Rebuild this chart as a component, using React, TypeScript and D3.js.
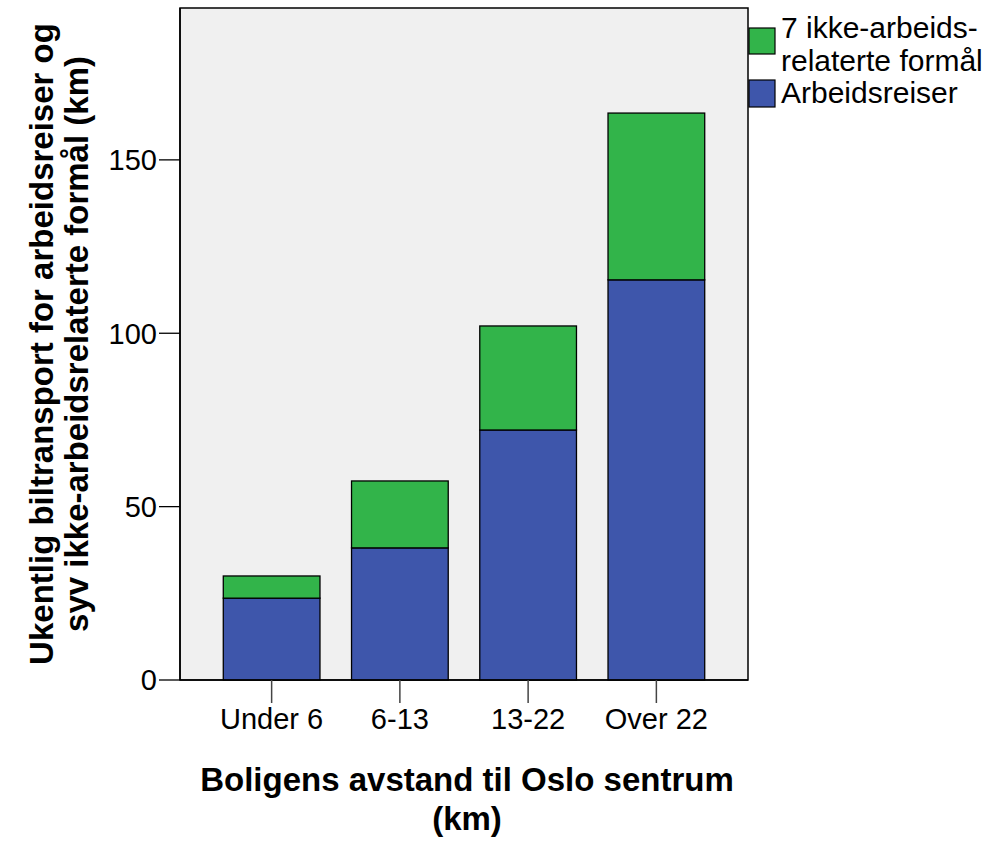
import React from "react";
import * as d3 from "d3";

const categories = ["Under 6", "6-13", "13-22", "Over 22"];
const arbeidsreiser = [23.6, 38.1, 72.1, 115.4];
const ikkeArbeid = [6.4, 19.3, 30.0, 48.1];
const yTicks = [0, 50, 100, 150];
const seriesNames = ["7 ikke-arbeids-|relaterte formål", "Arbeidsreiser"];

const GREEN = "#32b44a";
const BLUE = "#3e56ab";

export default function App() {
  const W = 1000, H = 845;
  const left = 180, right = 748, top = 8, bottom = 680;
  const x = d3.scaleBand<string>().domain(categories).range([left, right]).paddingInner(0.246).paddingOuter(0.3375);
  const y = d3.scaleLinear().domain([0, 193.8]).range([bottom, top]);
  const font = "Arial, 'Liberation Sans', sans-serif";

  return (
    <svg width={W} height={H} style={{ display: "block", position: "absolute", left: 0, top: 0 }} fontFamily={font}>
      <rect x={0} y={0} width={W} height={H} fill="#fff" />
      <rect x={left} y={top} width={right - left} height={bottom - top} fill="#f0f0f0" stroke="#000" strokeWidth={1.5} />
      {categories.map((c, i) => {
        const bx = x(c)!;
        const bw = x.bandwidth();
        const b = arbeidsreiser[i];
        const g = ikkeArbeid[i];
        return (
          <g key={c}>
            <rect x={bx} y={y(b)} width={bw} height={y(0) - y(b)} fill={BLUE} stroke="#000" strokeWidth={1.3} />
            <rect x={bx} y={y(b + g)} width={bw} height={y(b) - y(b + g)} fill={GREEN} stroke="#000" strokeWidth={1.3} />
          </g>
        );
      })}
      {/* y axis */}
      <line x1={left} x2={left} y1={top} y2={bottom} stroke="#000" strokeWidth={1.5} />
      {yTicks.map((t) => (
        <g key={t}>
          <line x1={left - 21} x2={left} y1={y(t)} y2={y(t)} stroke="#000" strokeWidth={1.3} />
          <text x={left - 23} y={y(t)} dy="0.36em" textAnchor="end" fontSize={29}>{t}</text>
        </g>
      ))}
      {/* x axis */}
      <line x1={left} x2={right} y1={bottom} y2={bottom} stroke="#000" strokeWidth={1.5} />
      {categories.map((c) => {
        const cx = x(c)! + x.bandwidth() / 2;
        return (
          <g key={c}>
            <line x1={cx} x2={cx} y1={bottom} y2={bottom + 23} stroke="#444" strokeWidth={1.5} />
            <text x={cx} y={729} textAnchor="middle" fontSize={29}>{c}</text>
          </g>
        );
      })}
      {/* axis titles */}
      <text x={467} y={791} textAnchor="middle" fontSize={33} fontWeight="bold">Boligens avstand til Oslo sentrum</text>
      <text x={467} y={830} textAnchor="middle" fontSize={33} fontWeight="bold">(km)</text>
      <g transform={`translate(53, ${(top + bottom) / 2}) rotate(-90)`}>
        <text x={0} y={0} textAnchor="middle" fontSize={33} fontWeight="bold">Ukentlig biltransport for arbeidsreiser og</text>
        <text x={0} y={35} textAnchor="middle" fontSize={33} fontWeight="bold">syv ikke-arbeidsrelaterte formål (km)</text>
      </g>
      {/* legend */}
      <rect x={749} y={28} width={26} height={26} fill={GREEN} stroke="#000" strokeWidth={1.2} />
      <rect x={749} y={80} width={26} height={27} fill={BLUE} stroke="#000" strokeWidth={1.2} />
      {seriesNames[0].split("|").map((line, i) => (
        <text key={i} x={781} y={38 + i * 33} fontSize={30}>{line}</text>
      ))}
      <text x={781} y={103} fontSize={30}>{seriesNames[1]}</text>
    </svg>
  );
}
